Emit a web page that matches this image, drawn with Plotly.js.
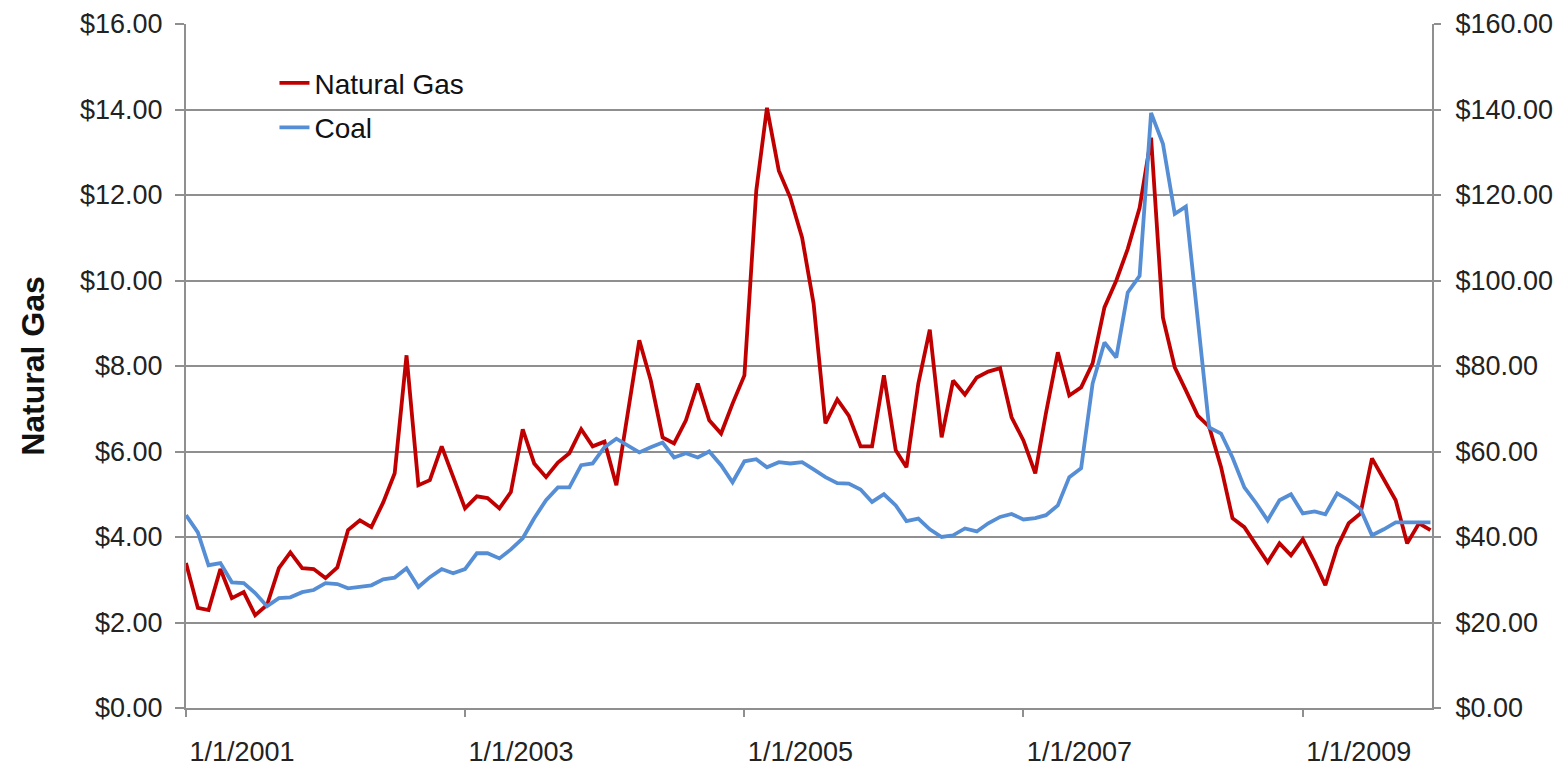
<!DOCTYPE html>
<html>
<head>
<meta charset="utf-8">
<script src="https://cdn.plot.ly/plotly-3.0.1.min.js"></script>
<style>
html,body{margin:0;padding:0;background:#fff;}
#chart{width:1561px;height:767px;}
</style>
</head>
<body>
<div id="chart"></div>
<script>
// Monthly observations, Jan 2001 .. Dec 2009
var startYear = 2001, monthCount = 108;
var months = [];
for (var k = 0; k < monthCount; k++) {
  var yy = startYear + Math.floor(k / 12), mm = (k % 12) + 1;
  months.push(yy + '-' + (mm < 10 ? '0' + mm : mm) + '-01');
}

// Natural gas price ($, left axis)
var naturalGas = [
  3.39, 2.34, 2.29, 3.25, 2.57, 2.71, 2.17, 2.41, 3.27, 3.64, 3.27, 3.25,
  3.04, 3.29, 4.16, 4.39, 4.23, 4.81, 5.49, 8.25, 5.21, 5.33, 6.12, 5.40,
  4.67, 4.95, 4.91, 4.67, 5.05, 6.52, 5.72, 5.40, 5.74, 5.96, 6.52, 6.12,
  6.23, 5.21, 6.90, 8.60, 7.66, 6.33, 6.19, 6.73, 7.59, 6.73, 6.42, 7.12,
  7.78, 12.10, 14.04, 12.57, 11.94, 11.00, 9.46, 6.66, 7.22, 6.84, 6.12, 6.12,
  7.78, 6.03, 5.63, 7.59, 8.85, 6.33, 7.66, 7.33, 7.73, 7.87, 7.95, 6.80,
  6.26, 5.49, 6.90, 8.32, 7.31, 7.50, 8.06, 9.37, 10.00, 10.74, 11.70, 13.34,
  9.13, 7.97, 7.43, 6.84, 6.58, 5.64, 4.44, 4.23, 3.81, 3.41, 3.85, 3.57,
  3.95, 3.41, 2.87, 3.76, 4.32, 4.55, 5.84, 5.33, 4.86, 3.85, 4.32, 4.16
];

// Coal price ($, right axis)
var coal = [
  45.1, 41.1, 33.4, 33.9, 29.4, 29.2, 26.9, 23.8, 25.7, 25.9, 27.1, 27.6,
  29.2, 29.0, 28.0, 28.3, 28.7, 30.1, 30.5, 32.7, 28.3, 30.6, 32.5, 31.5,
  32.5, 36.2, 36.2, 35.0, 37.1, 39.7, 44.4, 48.6, 51.6, 51.6, 56.8, 57.2,
  61.0, 63.0, 61.4, 59.8, 61.0, 62.1, 58.6, 59.6, 58.6, 60.0, 56.8, 52.8,
  57.7, 58.2, 56.3, 57.5, 57.2, 57.5, 55.8, 54.0, 52.6, 52.5, 51.1, 48.2,
  50.0, 47.4, 43.7, 44.3, 41.8, 40.0, 40.4, 42.0, 41.3, 43.2, 44.7, 45.4,
  44.1, 44.4, 45.1, 47.4, 54.0, 56.1, 75.9, 85.5, 82.0, 97.2, 101.1, 139.2,
  132.0, 115.6, 117.3, 90.0, 65.6, 64.2, 58.6, 51.6, 47.9, 43.9, 48.6, 50.0,
  45.5, 46.0, 45.3, 50.2, 48.6, 46.5, 40.4, 41.8, 43.4, 43.4, 43.4, 43.4
];

var seriesNames = ['Natural Gas', 'Coal'];
var leftTitle = 'Natural Gas';

var FONT = 'Liberation Sans, Arial, sans-serif';
var GRID = '#8f8f8f';

var traces = [
  {x: months, y: naturalGas, name: seriesNames[0], type: 'scatter', mode: 'lines',
   line: {color: '#C00000', width: 3.8}, yaxis: 'y', legendgroup: 'g1'},
  {x: months, y: coal, name: seriesNames[1], type: 'scatter', mode: 'lines',
   line: {color: '#558ED5', width: 3.8}, yaxis: 'y2', legendgroup: 'g2'}
];

var layout = {
  width: 1561, height: 767,
  margin: {l: 186, r: 129, t: 24, b: 59},
  paper_bgcolor: '#fff', plot_bgcolor: '#fff',
  font: {family: FONT, color: '#222'},
  showlegend: true,
  legend: {x: 0.071, y: 0.95, xanchor: 'left', yanchor: 'top',
           bgcolor: 'rgba(0,0,0,0)', font: {size: 28, color: '#111'},
           tracegroupgap: 5, traceorder: 'grouped'},
  xaxis: {
    type: 'date', range: ['2001-01-01', '2009-12-05'],
    tick0: '2001-01-01', dtick: 'M24', tickformat: '%-m/%-d/%Y',
    ticks: 'outside', ticklen: 7, tickwidth: 2, tickcolor: GRID,
    showline: true, linecolor: GRID, linewidth: 2, showgrid: false, zeroline: false,
    tickfont: {size: 27, color: '#222'}, ticklabelshift: 56, ticklabelstandoff: 12
  },
  yaxis: {
    range: [0, 16], dtick: 2, tickprefix: '$', tickformat: '.2f',
    ticks: 'outside', ticklen: 9, tickwidth: 2, tickcolor: GRID,
    showline: true, linecolor: GRID, linewidth: 2,
    showgrid: true, gridcolor: GRID, gridwidth: 2, zeroline: false,
    tickfont: {size: 27, color: '#222'}, ticklabelstandoff: 7,
    title: {text: '<b>' + leftTitle + '</b>', font: {size: 32, color: '#111'}, standoff: 26}
  },
  yaxis2: {
    overlaying: 'y', side: 'right',
    range: [0, 160], dtick: 20, tickprefix: '$', tickformat: '.2f',
    ticks: 'outside', ticklen: 7, tickwidth: 2, tickcolor: GRID,
    showline: true, linecolor: GRID, linewidth: 2,
    showgrid: false, zeroline: false,
    tickfont: {size: 27, color: '#222'}, ticklabelstandoff: 9
  }
};

Plotly.newPlot('chart', traces, layout, {displayModeBar: false, staticPlot: true});
</script>
</body>
</html>
